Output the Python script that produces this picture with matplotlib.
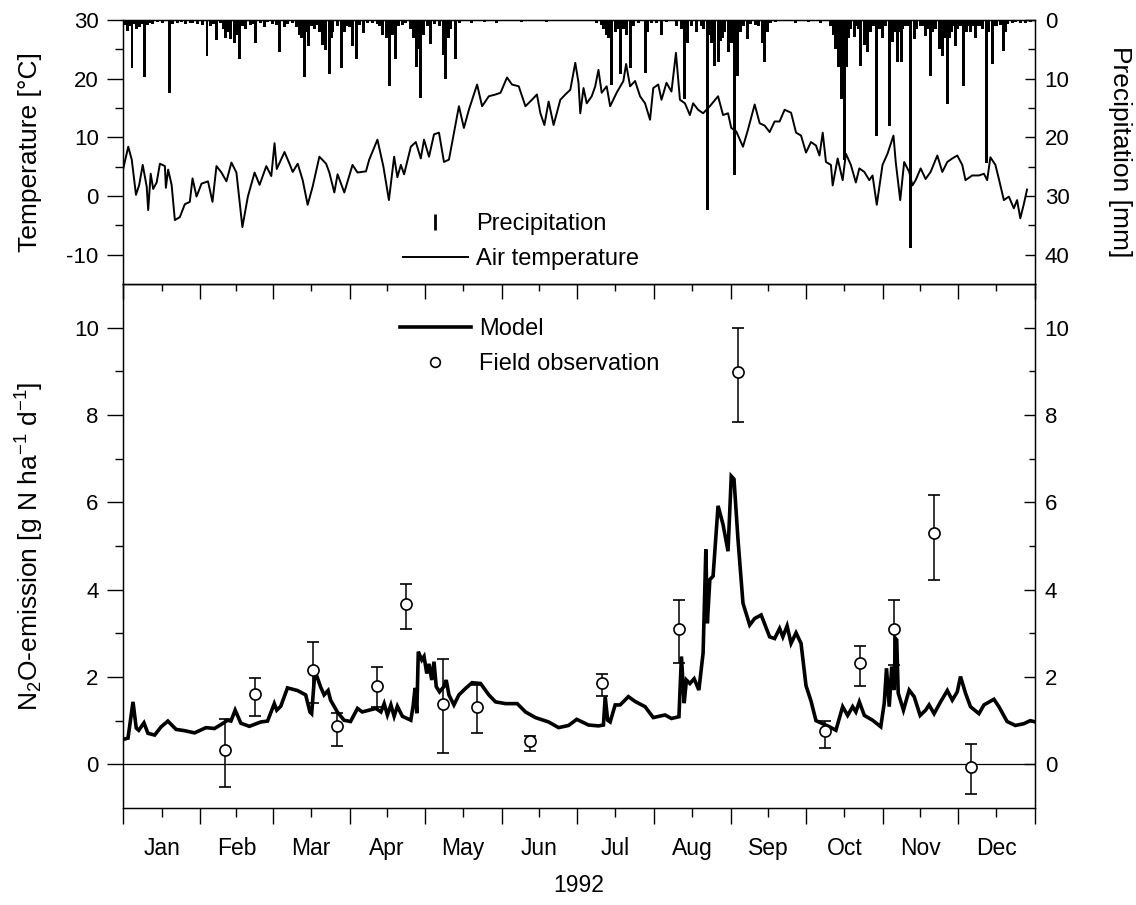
import matplotlib.pyplot as plt
from matplotlib.lines import Line2D
import numpy as np

plt.rcParams['font.family'] = ['Liberation Sans', 'DejaVu Sans']
plt.rcParams['mathtext.default'] = 'regular'
plt.rcParams['axes.unicode_minus'] = False

# calendar of 1992 (leap year), day 0 = 1 January
month_starts = [0, 31, 60, 91, 121, 152, 182, 213, 244, 274, 305, 335, 366]
month_names = ['Jan', 'Feb', 'Mar', 'Apr', 'May', 'Jun',
               'Jul', 'Aug', 'Sep', 'Oct', 'Nov', 'Dec']

# daily mean air temperature [°C]
temp_day = [0, 2.1, 3.5, 5.2, 6.5, 7.9, 9.5, 10.1, 11.1, 12.1, 13.5, 14.8, 16.8, 17.2,
            18.1, 19.5, 20.8, 22.8, 24.8, 26.8, 27.9, 29.5, 31.5, 34.1, 35.9, 37.5,
            39.5, 41.5, 43.5, 45.5, 47.9, 50.1, 52.8, 54.8, 57.5, 59.5, 60.8, 61.7,
            64.8, 66.8, 68.1, 70.1, 72.1, 74.1, 76.1, 78.8, 81.5, 82.8, 84.8, 86.1,
            88.8, 92.1, 94.1, 97.5, 98.8, 102.1, 104.5, 106.7, 108.8, 110.1, 111.5,
            112.8, 115.5, 117.5, 119.5, 120.8, 122.8, 124.8, 126.8, 128.8, 130.8,
            132.8, 134.8, 136.8, 138.8, 142.1, 144.1, 146.8, 149.5, 151.5, 154.1,
            156.1, 158.8, 161.5, 164.1, 166.1, 167.5, 169.1, 170.8, 172.8, 175.5,
            177.5, 179.5, 181.5, 182.8, 183.5, 184.8, 186.1, 188.1, 189.5, 190.8,
            192.1, 194.1, 195.5, 198.1, 200.8, 201.9, 203.5, 205.5, 207.5, 209.5,
            211.5, 212.8, 214.8, 216.1, 218.1, 220.1, 221.9, 223.5, 225.5, 227.5,
            228.8, 230.8, 232.8, 235.5, 238.8, 240.8, 242.8, 244.1, 246.1, 248.8,
            250.8, 253.5, 255.5, 257.5, 259.5, 261.5, 263.5, 265.5, 268.1, 270.1,
            272.1, 274.1, 276.1, 278.1, 279.5, 280.8, 282.1, 284.1, 284.8, 286.8,
            288.8, 290.1, 292.1, 294.1, 295.5, 297.5, 299.5, 300.8, 302.5, 304.8,
            306.8, 309.2, 310.1, 311.9, 313.5, 315.5, 316.8, 318.1, 320.1, 322.1,
            324.1, 326.8, 328.8, 330.8, 332.8, 334.8, 336.8, 338.1, 340.8, 343.5,
            345.5, 346.8, 348.1, 350.1, 351.5, 353.5, 355.5, 357.5, 358.8, 360.1,
            361.5, 362.8]
temp_val = [4.5, 8.4, 6.2, 0.2, 1.9, 5.3, 1.6, -2.4, 3.8, 1.2, 2.3, 5.5, 5.1, 1.4,
            4.5, 1.9, -4.1, -3.6, -1.4, -1.0, 3.0, -0.1, 2.1, 2.5, -1.0, 5.1,
            4.0, 2.5, 5.7, 4.0, -5.3, -0.1, 4.0, 1.9, 5.1, 3.4, 9.0, 4.6,
            7.5, 5.5, 4.1, 5.5, 2.7, -1.5, 1.6, 6.7, 5.5, 4.0, 0.6, 3.7,
            0.6, 5.3, 4.0, 4.2, 6.2, 9.6, 5.0, -0.7, 6.7, 3.2, 5.3,
            3.7, 8.4, 9.2, 6.4, 9.6, 6.7, 10.5, 10.8, 5.8, 6.2,
            10.8, 15.3, 11.6, 14.7, 19.0, 15.3, 17.0, 17.3, 17.6, 20.2,
            19.0, 18.7, 15.3, 16.4, 17.3, 14.1, 12.1, 16.1, 12.1, 16.4,
            17.3, 18.1, 22.7, 19.3, 14.1, 18.4, 15.8, 17.0, 18.7, 21.5,
            17.6, 18.7, 15.3, 17.6, 19.6, 22.5, 18.7, 19.6, 17.0, 15.8,
            13.0, 18.4, 19.0, 16.4, 19.3, 17.8, 24.4, 16.4, 15.8, 13.8,
            15.8, 14.7, 14.1, 15.3, 17.0, 13.8, 14.1, 11.6, 11.0, 8.4,
            11.3, 15.6, 12.4, 12.0, 10.9, 12.7, 12.7, 14.7, 14.2, 10.8,
            10.3, 7.4, 9.2, 8.6, 6.9, 10.8, 5.8, 5.3, 1.8, 6.4,
            2.7, 7.2, 5.3, 2.3, 4.7, 4.1, 2.7, 3.5, -1.5, 5.3,
            7.2, 10.3, 5.8, -0.7, 5.8, 4.1, 1.8, 2.7, 4.7, 2.9,
            4.1, 6.9, 4.1, 5.8, 6.4, 6.9, 5.3, 2.7, 3.5, 3.5,
            3.8, 2.7, 6.6, 5.3, 2.9, -0.7, -0.1, -2.1, -0.7, -3.8,
            -1.4, 1.1]

# daily precipitation [mm]
precip_day = [0.5, 1.7, 2.7, 3.6, 4.5, 5.3, 6.7, 7.6, 8.7, 10, 11, 12, 14, 16, 18.7,
              20, 22, 23.5, 25, 27, 28, 30, 32, 33.7, 35, 36.5, 37.7, 39, 40.3,
              41.3, 42.3, 43.3, 44.9, 45.8, 46.7, 47.8, 49.3, 51, 52.2, 53.3, 55,
              56.7, 58, 60, 61.5, 62.7, 64.7, 66, 68, 69.5, 70.7, 71.7, 72.7, 73.5,
              74.3, 75.5, 76.7, 78, 79, 80, 81.3, 82.7, 83.5, 84, 86, 87.6, 88.7,
              90, 91, 92, 93.7, 95, 96.7, 98, 100, 102, 103, 104, 105.7, 106.3,
              107.1, 108.2, 109.3, 110.5, 112, 113.5, 115.5, 116.7, 117.7, 118.5,
              119.3, 120.5, 122, 123.5, 125, 127, 128.5, 129.5, 130.5, 131.5, 133.5,
              135, 140, 145, 150, 160, 170, 190, 192, 193, 194, 195, 196.1, 197.5,
              198.5, 199.5, 200, 201, 202, 203.5, 204, 205, 207, 209.5, 210.5, 212,
              214, 216, 218, 222, 224, 225.5, 226.5, 228, 230, 232, 233, 234.5,
              235.5, 236, 237.5, 238.8, 239.8, 240.5, 241.5, 242.8, 243.8, 244,
              245.2, 246.8, 247.5, 248, 249, 250.8, 252, 254, 255, 256.5, 257.5,
              258.5, 260, 262, 270, 275, 280, 284, 285, 286, 287, 288.2, 289.5,
              290.5, 291, 292, 293.5, 294, 295, 296.1, 297.5, 298.8, 299.8, 300.5,
              301.5, 302.5, 303.5, 304.8, 306, 307.5, 308.8, 309.8, 310.8, 311.5,
              312.4, 313, 314, 315, 316.1, 317.5, 318.5, 320, 321, 322.1, 323,
              324.1, 325, 326, 327.5, 328.8, 329.8, 330.8, 331.8, 332.5, 333, 334.1,
              335, 336, 337.5, 338.5, 339, 340.1, 341, 342.1, 343, 344, 345, 346.5,
              347.5, 348.8, 349.8, 350.5, 352, 353.5, 354.1, 355, 357, 358, 360,
              362, 364]
precip_mm = [0.8, 1.8, 1.0, 8.1, 0.7, 1.5, 1.2, 0.6, 9.8, 0.8, 0.5, 0.6, 0.4, 0.5, 12.4,
             0.7, 0.5, 0.4, 0.6, 0.5, 0.5, 0.6, 0.8, 6.1, 1.0, 0.6, 3.4, 0.5, 1.5,
             3.0, 2.0, 3.2, 4.0, 2.5, 6.6, 1.0, 1.5, 0.8, 0.6, 4.0, 0.5,
             1.2, 0.4, 0.6, 0.8, 5.4, 1.2, 0.6, 0.5, 1.2, 2.6, 3.0, 9.8, 2.0,
             4.5, 1.0, 1.5, 0.8, 2.0, 4.3, 5.1, 9.2, 3.0, 2.0, 1.0, 8.1, 2.0,
             1.0, 1.2, 4.5, 6.6, 0.8, 2.2, 0.5, 0.5, 0.6, 1.0, 2.6, 3.0, 2.0,
             11.2, 2.5, 6.6, 1.0, 0.8, 0.5, 1.5, 3.0, 8.0, 5.0,
             13.3, 2.5, 1.0, 4.1, 0.6, 1.0, 6.0, 10.1, 3.0, 1.5, 6.7,
             0.5, 0.5, 0.4, 0.5, 0.4, 0.4, 0.5, 0.8, 1.5, 2.5, 3.0, 11.0, 2.0,
             1.5, 9.2, 0.8, 1.5, 2.5, 8.1, 0.8, 1.0, 0.5, 9.0, 2.0, 0.5,
             0.5, 2.5, 0.4, 1.0, 1.5, 13.5, 4.0, 1.0, 2.1, 1.0, 1.5, 32.4,
             2.5, 4.0, 7.8, 7.2, 3.5, 3.0, 2.0, 5.5, 3.0, 4.0,
             26.4, 9.5, 2.0, 2.0, 1.0, 3.2, 0.6, 0.8, 1.0, 4.0, 7.2,
             2.0, 0.5, 0.4, 0.5, 0.4, 0.5, 1.0, 2.5, 5.0, 8.0, 13.5, 23.8,
             8.0, 3.0, 1.5, 2.9, 1.0, 1.5, 7.8, 4.3, 5.5, 2.0, 1.0,
             1.0, 19.8, 1.5, 3.0, 1.0, 18.1, 3.8, 2.0, 7.2, 2.0,
             7.2, 1.5, 1.0, 1.0, 38.9, 3.3, 1.5, 1.0, 1.0, 2.7, 1.5,
             9.5, 2.0, 1.5, 5.0, 6.1, 3.0, 14.4, 3.0, 2.0, 1.0, 4.4,
             1.5, 1.0, 11.2, 2.0, 1.0, 2.1, 1.0, 3.0, 1.0, 1.0, 1.5, 24.4,
             2.0, 7.5, 1.0, 1.0, 0.8, 5.3, 2.0, 0.6, 0.5, 0.4, 0.5,
             0.5, 0.4]

# simulated N2O emission [g N ha-1 d-1]
model_day = [0, 2, 4, 5.3, 6.3, 8.4, 10, 12.7, 15.3, 18, 21.3, 24.7, 28.7, 33.3,
             36.7, 39.3, 42, 43.3, 45, 47.3, 50.7, 55.3, 58, 60.7, 61.7, 63.3, 66,
             70, 73.3, 75, 75.7, 77, 77.9, 79.3, 80.7, 82.3, 83.3, 86, 88.7, 91.3,
             94.1, 96, 98.8, 101.5, 103.5, 104.8, 106.1, 107.5, 108.8, 110.1, 112.1,
             115.5, 116.4, 117.2, 117.9, 118.5, 119.9, 120.8, 121.9, 122.8, 123.9,
             124.8, 125.7, 127, 128.8, 129.7, 130.8, 132.8, 134.8, 137.5, 140.1,
             143.5, 146.8, 149.5, 153.5, 158.2, 161.5, 165.5, 170.8, 174.8, 178.8,
             182.1, 186.8, 190.8, 192.8, 193.5, 194.5, 195.5, 197.5, 199.5, 202.8,
             205.5, 209.5, 212.8, 217.5, 220.1, 223.1, 224.1, 225.2, 226.1, 227.5,
             229.2, 231.1, 232.8, 233.9, 234.5, 235.5, 236.8, 238.8, 240.8, 242.8,
             244.1, 245.2, 246.8, 248.8, 251.5, 253.5, 256.1, 259.5, 261.5, 263.5,
             264.8, 266.5, 268.1, 270.1, 272.1, 274.1, 276.1, 278.1, 280.8, 283.5,
             286.1, 288.8, 290.8, 292.8, 294.1, 295.5, 297.5, 300.8, 304.1, 305.5,
             306.4, 307.5, 308.5, 309.5, 309.9, 310.5, 311.1, 313.2, 315.5, 317.5,
             319.9, 322.1, 323.5, 325.5, 328.1, 330.8, 332.8, 334.8, 336.1, 338.1,
             340.1, 343.5, 345.5, 349.5, 351.5, 354.8, 358.1, 361.5, 364.1, 365.5]
model_val = [0.57, 0.60, 1.43, 0.83, 0.78, 0.95, 0.71, 0.67, 0.86, 0.99, 0.80, 0.77,
             0.72, 0.84, 0.82, 0.91, 1.01, 0.99, 1.24, 0.94, 0.87, 0.97, 0.99, 1.39,
             1.24, 1.33, 1.75, 1.69, 1.59, 1.20, 1.16, 2.12, 2.00, 1.77, 1.59, 1.69,
             1.47, 1.20, 1.01, 0.98, 1.28, 1.20, 1.24, 1.28, 1.20, 1.39, 1.13, 1.36,
             1.10, 1.33, 1.10, 1.01, 1.33, 1.75, 1.17, 2.58, 2.39, 2.47, 2.08, 2.30,
             1.93, 2.35, 1.78, 1.66, 1.78, 1.93, 1.59, 1.36, 1.59, 1.74, 1.87, 1.85,
             1.59, 1.43, 1.39, 1.39, 1.20, 1.07, 0.97, 0.84, 0.89, 1.03, 0.90, 0.88,
             0.90, 1.55, 1.01, 0.97, 1.36, 1.36, 1.55, 1.44, 1.32, 1.07, 1.13, 1.05,
             1.09, 2.47, 1.40, 1.93, 1.85, 1.96, 1.70, 2.55, 4.92, 3.23, 4.23, 4.31,
             5.92, 5.49, 4.88, 6.60, 6.53, 5.15, 3.69, 3.19, 3.34, 3.42, 2.92, 2.88,
             3.11, 2.92, 3.17, 2.77, 3.01, 2.77, 1.80, 1.45, 1.00, 0.93, 0.86, 0.78,
             1.32, 1.12, 1.32, 1.20, 1.43, 1.12, 1.01, 0.86, 1.40, 2.20, 1.32, 2.24,
             1.70, 2.89, 2.85, 1.63, 1.24, 1.70, 1.55, 1.12, 1.24, 1.36, 1.16, 1.43,
             1.69, 1.47, 1.66, 2.01, 1.63, 1.32, 1.16, 1.36, 1.49, 1.32, 0.98, 0.89,
             0.93, 1.00, 0.98]

# field chamber measurements with range
obs_day = [40.9, 53.0, 76.3, 86.0, 101.9, 113.7, 128.5, 142.0, 163.5, 192.4,
           223.2, 246.8, 281.9, 295.7, 309.5, 325.5, 340.5]
obs_val = [0.32, 1.60, 2.16, 0.88, 1.79, 3.67, 1.39, 1.32, 0.53, 1.87,
           3.10, 8.98, 0.76, 2.31, 3.10, 5.29, -0.05]
obs_low = [-0.52, 1.11, 1.40, 0.43, 1.32, 3.09, 0.25, 0.71, 0.30, 1.56,
           2.31, 7.83, 0.38, 1.79, 2.28, 4.23, -0.67]
obs_high = [1.03, 1.98, 2.80, 1.17, 2.23, 4.12, 2.41, 1.82, 0.64, 2.06,
            3.77, 10.0, 0.99, 2.71, 3.77, 6.17, 0.46]

month_mids = [(a + b) / 2 for a, b in zip(month_starts[:-1], month_starts[1:])]

TICK_FS = 16
MONTH_FS = 16.5
LABEL_FS = 19
LEGEND_FS = 17

fig = plt.figure(figsize=(11.36, 9.05), dpi=100)
ax_b = fig.add_axes([0.1083, 0.1072, 0.8028, 0.5790])
ax_t = fig.add_axes([0.1083, 0.6862, 0.8028, 0.2917])
ax_b.patch.set_visible(False)

for ax in (ax_t, ax_b):
    for sp in ax.spines.values():
        sp.set_linewidth(1.0)


# ── top panel: air temperature + precipitation ───────────────────────
ax_t.plot(temp_day, temp_val, color='k', lw=1.4)
ax_t.set_xlim(0, 366)
ax_t.set_ylim(-15, 30)
ax_t.set_yticks([-10, 0, 10, 20, 30])
ax_t.set_yticks([-5, 5, 15, 25], minor=True)
ax_t.tick_params(axis='y', which='major', direction='out', length=11.5, width=1,
                 pad=6, labelsize=TICK_FS, right=False)
ax_t.tick_params(axis='y', which='minor', direction='out', length=5.8, width=1,
                 right=False)
ax_t.set_xticks(month_starts)
ax_t.set_xticks(month_mids, minor=True)
ax_t.tick_params(axis='x', which='major', direction='out', length=11, width=1,
                 labelbottom=False, top=False)
ax_t.tick_params(axis='x', which='minor', direction='out', length=5, width=1,
                 labelbottom=False, top=False)

ax_p = ax_t.twinx()
ax_p.bar(precip_day, precip_mm, width=1.2, color='k', linewidth=0)
ax_p.set_ylim(45, 0)
ax_p.set_yticks([0, 10, 20, 30, 40])
ax_p.set_yticks([5, 15, 25, 35], minor=True)
ax_p.tick_params(axis='y', which='major', direction='in', length=7.5, width=1,
                 pad=7, labelsize=TICK_FS)
ax_p.tick_params(axis='y', which='minor', direction='in', length=5, width=1)

top_handles = [
    Line2D([], [], ls='none', marker='|', ms=11, mew=2, color='k', label='Precipitation'),
    Line2D([], [], color='k', lw=1.4, label='Air temperature'),
]
ax_p.legend(handles=top_handles, loc='upper left', bbox_to_anchor=(403 / 1136, 1 - 213 / 905),
            bbox_transform=fig.transFigure, frameon=False, fontsize=LEGEND_FS,
            handlelength=2.75, handletextpad=0.35, labelspacing=0.56,
            borderpad=0, borderaxespad=0)


# ── bottom panel: N2O emission ───────────────────────────────────────
ax_b.axhline(0, color='k', lw=0.9)
ax_b.plot(model_day, model_val, color='k', lw=2.6, solid_joinstyle='miter')
yerr = [np.subtract(obs_val, obs_low), np.subtract(obs_high, obs_val)]
ax_b.errorbar(obs_day, obs_val, yerr=yerr, fmt='o', ms=8, mfc='white', mec='k',
              mew=1.2, ecolor='k', elinewidth=1.1, capsize=4.5, capthick=1.1, zorder=3)
ax_b.set_xlim(0, 366)
ax_b.set_ylim(-1, 11)
ax_b.set_yticks([0, 2, 4, 6, 8, 10])
ax_b.set_yticks([1, 3, 5, 7, 9], minor=True)
ax_b.tick_params(axis='y', which='major', direction='out', length=11.5, width=1,
                 pad=6, labelsize=TICK_FS, right=False)
ax_b.tick_params(axis='y', which='minor', direction='out', length=5.8, width=1,
                 right=False)
ax_b.set_xticks(month_starts)
ax_b.set_xticklabels([])
ax_b.set_xticks(month_mids, minor=True)
ax_b.set_xticklabels(month_names, minor=True)
ax_b.tick_params(axis='x', which='major', direction='out', length=11.5, width=1, top=False)
ax_b.tick_params(axis='x', which='minor', direction='out', length=6.5, width=1,
                 top=False, pad=14.5, labelsize=MONTH_FS)

ax_r = ax_b.twinx()
ax_r.set_ylim(-1, 11)
ax_r.set_yticks([0, 2, 4, 6, 8, 10])
ax_r.set_yticks([1, 3, 5, 7, 9], minor=True)
ax_r.tick_params(axis='y', which='major', direction='in', length=8, width=1,
                 pad=7, labelsize=TICK_FS)
ax_r.tick_params(axis='y', which='minor', direction='in', length=4, width=1)

bot_handles = [
    Line2D([], [], color='k', lw=2.6, label='Model'),
    Line2D([], [], ls='none', marker='o', ms=7, mfc='white', mec='k', mew=1.2,
           label='Field observation'),
]
ax_r.legend(handles=bot_handles, loc='upper left', bbox_to_anchor=(400 / 1136, 1 - 318 / 905),
            bbox_transform=fig.transFigure, frameon=False, fontsize=LEGEND_FS,
            handlelength=3.0, handletextpad=0.35, labelspacing=0.56,
            borderpad=0, borderaxespad=0)

# axis titles
fig.text(30 / 1136, 1 - 152 / 905, 'Temperature [°C]', rotation=90,
         ha='center', va='center', fontsize=LABEL_FS)
fig.text(1120 / 1136, 1 - 152 / 905, 'Precipitation [mm]', rotation=270,
         ha='center', va='center', fontsize=LABEL_FS)
fig.text(30 / 1136, 1 - 546 / 905, 'N$_2$O-emission [g N ha$^{-1}$ d$^{-1}$]',
         rotation=90, ha='center', va='center', fontsize=LABEL_FS)
fig.text(579 / 1136, 1 - 885 / 905, '1992', ha='center', va='center', fontsize=16.5)

fig.savefig('out.png', dpi=100)
